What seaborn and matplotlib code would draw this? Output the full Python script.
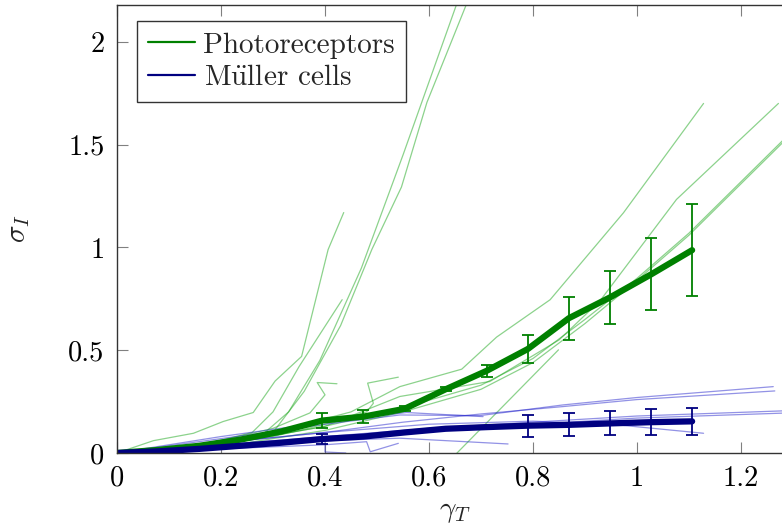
import numpy as np
import pandas as pd
import matplotlib
matplotlib.use("Agg")
import matplotlib.pyplot as plt
from matplotlib.lines import Line2D
import seaborn as sns

# ---- data -------------------------------------------------------------
# averaged curves (x grid shared by both cell types)
gamma_mean = [0.0, 0.079, 0.158, 0.237, 0.316, 0.395, 0.474, 0.553, 0.632,
              0.711, 0.790, 0.869, 0.948, 1.027, 1.106]
photo_mean = [0.0, 0.015, 0.035, 0.065, 0.105, 0.158, 0.177, 0.215, 0.310,
              0.400, 0.506, 0.656, 0.757, 0.869, 0.987]
photo_err = [0.0, 0.0, 0.0, 0.0, 0.0, 0.037, 0.032, 0.012, 0.010,
             0.030, 0.066, 0.105, 0.131, 0.175, 0.223]
muller_mean = [0.0, 0.008, 0.020, 0.035, 0.050, 0.068, 0.080, 0.100, 0.118,
               0.126, 0.133, 0.137, 0.144, 0.150, 0.154]
muller_err = [0.0, 0.0, 0.0, 0.0, 0.0, 0.024, 0.0, 0.0, 0.0,
              0.0, 0.054, 0.056, 0.058, 0.062, 0.064]

# individual photoreceptor cells
photo_cells = {
    "p1": ([0, 0.07, 0.147, 0.204, 0.262, 0.304, 0.355, 0.406, 0.436],
           [0, 0.06, 0.096, 0.153, 0.197, 0.35, 0.47, 0.99, 1.17]),
    "p2": ([0, 0.10, 0.20, 0.28, 0.33, 0.39, 0.47, 0.55, 0.654],
           [0, 0.01, 0.04, 0.09, 0.20, 0.45, 0.90, 1.45, 2.19]),
    "p3": ([0, 0.12, 0.22, 0.30, 0.36, 0.43, 0.49, 0.547, 0.596, 0.673],
           [0, 0.02, 0.05, 0.10, 0.30, 0.62, 0.99, 1.294, 1.706, 2.19]),
    "p4": ([0, 0.15, 0.26, 0.30, 0.35, 0.433],
           [0, 0.03, 0.10, 0.20, 0.42, 0.746]),
    "p5": ([0, 0.15, 0.30, 0.45, 0.544, 0.663, 0.73, 0.833, 0.974, 1.128],
           [0, 0.04, 0.10, 0.20, 0.323, 0.408, 0.564, 0.746, 1.169, 1.701]),
    "p6": ([0, 0.20, 0.40, 0.544, 0.717, 0.85, 0.929, 1.076, 1.272],
           [0, 0.04, 0.13, 0.275, 0.348, 0.55, 0.741, 1.234, 1.701]),
    "p7": ([0, 0.20, 0.40, 0.55, 0.70, 0.80, 0.90, 1.00, 1.10, 1.28],
           [0, 0.04, 0.13, 0.22, 0.33, 0.46, 0.65, 0.85, 1.07, 1.52]),
    "p8": ([0, 0.20, 0.40, 0.55, 0.70, 0.80, 0.90, 1.00, 1.10, 1.28],
           [0, 0.03, 0.11, 0.20, 0.31, 0.44, 0.63, 0.84, 1.06, 1.51]),
    "p9": ([0.65, 0.849],
           [-0.01, 0.502]),
    "p10": ([0, 0.10, 0.20, 0.30, 0.371, 0.40, 0.385, 0.423],
            [0, 0.02, 0.06, 0.12, 0.195, 0.283, 0.343, 0.337]),
    "p11": ([0, 0.15, 0.30, 0.40, 0.48, 0.493, 0.482, 0.541],
            [0, 0.03, 0.08, 0.14, 0.20, 0.242, 0.34, 0.369]),
}

# individual Mueller cells
muller_cells = {
    "m1": ([0, 0.20, 0.40, 0.544, 0.698, 0.858, 1.00, 1.262],
           [0, 0.07, 0.14, 0.185, 0.182, 0.234, 0.27, 0.323]),
    "m2": ([0, 0.20, 0.40, 0.55, 0.70, 0.858, 1.00, 1.265],
           [0, 0.05, 0.10, 0.15, 0.19, 0.226, 0.26, 0.302]),
    "m3": ([0, 0.20, 0.40, 0.60, 0.80, 1.00, 1.28],
           [0, 0.04, 0.08, 0.12, 0.15, 0.18, 0.205]),
    "m4": ([0, 0.20, 0.40, 0.60, 0.80, 1.00, 1.28],
           [0, 0.03, 0.07, 0.11, 0.14, 0.17, 0.194]),
    "m5": ([0, 0.20, 0.40, 0.60, 0.80, 0.95, 1.128],
           [0, 0.05, 0.10, 0.14, 0.155, 0.14, 0.096]),
    "m6": ([0, 0.20, 0.40, 0.544, 0.752],
           [0, 0.03, 0.06, 0.072, 0.044]),
    "m7": ([0, 0.20, 0.40, 0.48, 0.487, 0.541],
           [0, 0.02, 0.04, 0.055, 0.006, 0.047]),
    "m8": ([0, 0.20, 0.40, 0.40, 0.44],
           [0, 0.03, 0.07, 0.005, 0.0]),
    "m9": ([0, 0.20, 0.40, 0.557, 0.704],
           [0, 0.08, 0.15, 0.197, 0.177]),
}


def to_long(cells):
    rows = []
    for name, (xs, ys) in cells.items():
        for i, (xv, yv) in enumerate(zip(xs, ys)):
            rows.append({"cell": name, "order": i, "gamma": xv, "sigma": yv})
    return pd.DataFrame(rows)


photo_df = to_long(photo_cells)
muller_df = to_long(muller_cells)
mean_df = pd.DataFrame({"gamma": gamma_mean,
                        "photo": photo_mean, "photo_err": photo_err,
                        "muller": muller_mean, "muller_err": muller_err})

# ---- style ------------------------------------------------------------
sns.set_theme(style="ticks")
plt.rcParams["font.family"] = ["cmr10", "DejaVu Serif"]
plt.rcParams["mathtext.fontset"] = "cm"
plt.rcParams["axes.formatter.use_mathtext"] = True
plt.rcParams["axes.unicode_minus"] = False

GREEN = (0.0, 0.5, 0.0)
NAVY = (0.0, 0.0, 0.5)
GREEN_THIN = (0.1, 0.65, 0.1)
BLUE_THIN = (0.15, 0.15, 0.8)

fig = plt.figure(figsize=(7.82, 5.25), dpi=100)
ax = fig.add_axes([117 / 782, 72 / 525, 676 / 782, 448 / 525])

sns.lineplot(data=photo_df, x="gamma", y="sigma", units="cell",
             estimator=None, sort=False, color=GREEN_THIN, alpha=0.5,
             lw=0.9, ax=ax, legend=False)
sns.lineplot(data=muller_df, x="gamma", y="sigma", units="cell",
             estimator=None, sort=False, color=BLUE_THIN, alpha=0.5,
             lw=0.9, ax=ax, legend=False)

sns.lineplot(data=mean_df, x="gamma", y="photo", color=GREEN, lw=4.5,
             ax=ax, legend=False)
eb = mean_df[mean_df["photo_err"] > 0]
ax.errorbar(eb["gamma"], eb["photo"], yerr=eb["photo_err"], fmt="none",
            ecolor=GREEN, elinewidth=1.3, capsize=4, capthick=1.3)

sns.lineplot(data=mean_df, x="gamma", y="muller", color=NAVY, lw=4.5,
             ax=ax, legend=False)
eb = mean_df[mean_df["muller_err"] > 0]
ax.errorbar(eb["gamma"], eb["muller"], yerr=eb["muller_err"], fmt="none",
            ecolor=NAVY, elinewidth=1.3, capsize=4, capthick=1.3)

# ---- axes -------------------------------------------------------------
ax.set_xlim(0, 1.3)
ax.set_ylim(0, 2.18)
ax.set_xticks([0, 0.2, 0.4, 0.6, 0.8, 1.0, 1.2])
ax.set_yticks([0, 0.5, 1.0, 1.5, 2.0])
ax.set_xticklabels(["0", "0.2", "0.4", "0.6", "0.8", "1", "1.2"])
ax.set_yticklabels(["0", "0.5", "1", "1.5", "2"])
ax.tick_params(direction="in", length=8, width=0.8, color="#808080",
               top=True, right=True, labelsize=20.5, labelcolor="black")
ax.tick_params(axis="x", pad=9)
ax.tick_params(axis="y", pad=9)
for sp in ax.spines.values():
    sp.set_color("#333333")
    sp.set_linewidth(1.0)

ax.set_xlabel(r"$\gamma_T$", fontsize=21, labelpad=5)
ax.set_ylabel(r"$\sigma_I$", fontsize=21, labelpad=26)

handles = [Line2D([], [], color=GREEN, lw=1.6),
           Line2D([], [], color=NAVY, lw=1.6)]
leg = ax.legend(handles, ["Photoreceptors", r"M$\mathrm{\ddot{u}}$ller cells"],
                loc="upper left", bbox_to_anchor=(20 / 676, 432 / 448),
                borderaxespad=0, fontsize=21, frameon=True, fancybox=False,
                framealpha=1, edgecolor="#333333", handlelength=1.6,
                handletextpad=0.3, labelspacing=0.2, borderpad=0.38)
leg.get_frame().set_linewidth(1.0)

fig.savefig("out.png", dpi=100)
